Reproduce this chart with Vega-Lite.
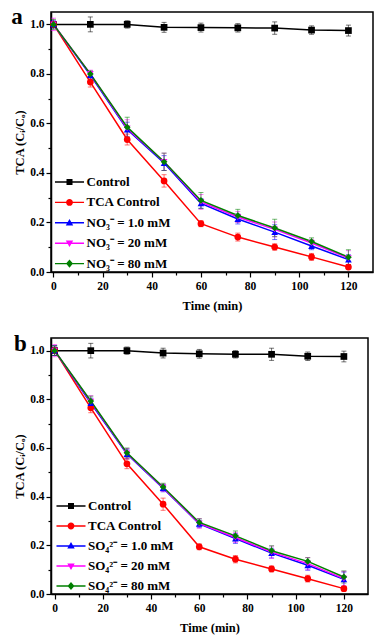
{
  "$schema": "https://vega.github.io/schema/vega-lite/v6.json",
  "padding": {"left": 10, "top": 5, "right": 5, "bottom": 5},
  "spacing": 18,
  "config": {
    "view": {"stroke": "#000", "strokeWidth": 1.5},
    "axis": {"domainColor": "#000", "domainWidth": 1.5, "tickColor": "#000", "tickWidth": 1.2, "labelFont": "Liberation Serif", "labelFontWeight": "bold", "labelFontSize": 11.5, "labelColor": "#000", "titleFont": "Liberation Serif", "titleFontWeight": "bold", "titleFontSize": 12.5, "titleColor": "#000", "grid": false}
  },
  "datasets": {
    "d": [
      {"p":"a","s":"Control","t":0,"v":1.0,"e":0.012},{"p":"a","s":"Control","t":15,"v":1.0,"e":0.03},{"p":"a","s":"Control","t":30,"v":1.0,"e":0.015},{"p":"a","s":"Control","t":45,"v":0.988,"e":0.02},{"p":"a","s":"Control","t":60,"v":0.987,"e":0.018},{"p":"a","s":"Control","t":75,"v":0.986,"e":0.017},{"p":"a","s":"Control","t":90,"v":0.985,"e":0.025},{"p":"a","s":"Control","t":105,"v":0.977,"e":0.017},{"p":"a","s":"Control","t":120,"v":0.975,"e":0.022},
      {"p":"a","s":"TCA Control","t":0,"v":1.0,"e":0.01},{"p":"a","s":"TCA Control","t":15,"v":0.767,"e":0.02},{"p":"a","s":"TCA Control","t":30,"v":0.535,"e":0.022},{"p":"a","s":"TCA Control","t":45,"v":0.368,"e":0.025},{"p":"a","s":"TCA Control","t":60,"v":0.195,"e":0.012},{"p":"a","s":"TCA Control","t":75,"v":0.141,"e":0.016},{"p":"a","s":"TCA Control","t":90,"v":0.101,"e":0.013},{"p":"a","s":"TCA Control","t":105,"v":0.061,"e":0.014},{"p":"a","s":"TCA Control","t":120,"v":0.02,"e":0.01},
      {"p":"a","s":"NO₃⁻ = 1.0 mM","t":0,"v":1.0,"e":0.015},{"p":"a","s":"NO₃⁻ = 1.0 mM","t":15,"v":0.795,"e":0.015},{"p":"a","s":"NO₃⁻ = 1.0 mM","t":30,"v":0.575,"e":0.03},{"p":"a","s":"NO₃⁻ = 1.0 mM","t":45,"v":0.44,"e":0.03},{"p":"a","s":"NO₃⁻ = 1.0 mM","t":60,"v":0.277,"e":0.02},{"p":"a","s":"NO₃⁻ = 1.0 mM","t":75,"v":0.214,"e":0.02},{"p":"a","s":"NO₃⁻ = 1.0 mM","t":90,"v":0.161,"e":0.03},{"p":"a","s":"NO₃⁻ = 1.0 mM","t":105,"v":0.105,"e":0.015},{"p":"a","s":"NO₃⁻ = 1.0 mM","t":120,"v":0.05,"e":0.02},
      {"p":"a","s":"NO₃⁻ = 20 mM","t":0,"v":1.0,"e":0.025},{"p":"a","s":"NO₃⁻ = 20 mM","t":15,"v":0.8,"e":0.015},{"p":"a","s":"NO₃⁻ = 20 mM","t":30,"v":0.58,"e":0.035},{"p":"a","s":"NO₃⁻ = 20 mM","t":45,"v":0.445,"e":0.035},{"p":"a","s":"NO₃⁻ = 20 mM","t":60,"v":0.283,"e":0.03},{"p":"a","s":"NO₃⁻ = 20 mM","t":75,"v":0.222,"e":0.022},{"p":"a","s":"NO₃⁻ = 20 mM","t":90,"v":0.172,"e":0.03},{"p":"a","s":"NO₃⁻ = 20 mM","t":105,"v":0.117,"e":0.015},{"p":"a","s":"NO₃⁻ = 20 mM","t":120,"v":0.056,"e":0.03},
      {"p":"a","s":"NO₃⁻ = 80 mM","t":0,"v":1.0,"e":0.02},{"p":"a","s":"NO₃⁻ = 80 mM","t":15,"v":0.8,"e":0.012},{"p":"a","s":"NO₃⁻ = 80 mM","t":30,"v":0.585,"e":0.04},{"p":"a","s":"NO₃⁻ = 80 mM","t":45,"v":0.445,"e":0.035},{"p":"a","s":"NO₃⁻ = 80 mM","t":60,"v":0.289,"e":0.032},{"p":"a","s":"NO₃⁻ = 80 mM","t":75,"v":0.228,"e":0.025},{"p":"a","s":"NO₃⁻ = 80 mM","t":90,"v":0.178,"e":0.035},{"p":"a","s":"NO₃⁻ = 80 mM","t":105,"v":0.123,"e":0.015},{"p":"a","s":"NO₃⁻ = 80 mM","t":120,"v":0.06,"e":0.03},
      {"p":"b","s":"Control","t":0,"v":1.0,"e":0.02},{"p":"b","s":"Control","t":15,"v":1.0,"e":0.03},{"p":"b","s":"Control","t":30,"v":1.0,"e":0.015},{"p":"b","s":"Control","t":45,"v":0.99,"e":0.02},{"p":"b","s":"Control","t":60,"v":0.987,"e":0.018},{"p":"b","s":"Control","t":75,"v":0.985,"e":0.015},{"p":"b","s":"Control","t":90,"v":0.985,"e":0.025},{"p":"b","s":"Control","t":105,"v":0.977,"e":0.017},{"p":"b","s":"Control","t":120,"v":0.976,"e":0.022},
      {"p":"b","s":"TCA Control","t":0,"v":1.0,"e":0.01},{"p":"b","s":"TCA Control","t":15,"v":0.765,"e":0.02},{"p":"b","s":"TCA Control","t":30,"v":0.535,"e":0.02},{"p":"b","s":"TCA Control","t":45,"v":0.369,"e":0.025},{"p":"b","s":"TCA Control","t":60,"v":0.194,"e":0.012},{"p":"b","s":"TCA Control","t":75,"v":0.143,"e":0.015},{"p":"b","s":"TCA Control","t":90,"v":0.103,"e":0.012},{"p":"b","s":"TCA Control","t":105,"v":0.063,"e":0.014},{"p":"b","s":"TCA Control","t":120,"v":0.022,"e":0.01},
      {"p":"b","s":"SO₄²⁻ = 1.0 mM","t":0,"v":1.0,"e":0.02},{"p":"b","s":"SO₄²⁻ = 1.0 mM","t":15,"v":0.785,"e":0.02},{"p":"b","s":"SO₄²⁻ = 1.0 mM","t":30,"v":0.575,"e":0.02},{"p":"b","s":"SO₄²⁻ = 1.0 mM","t":45,"v":0.435,"e":0.015},{"p":"b","s":"SO₄²⁻ = 1.0 mM","t":60,"v":0.288,"e":0.015},{"p":"b","s":"SO₄²⁻ = 1.0 mM","t":75,"v":0.228,"e":0.02},{"p":"b","s":"SO₄²⁻ = 1.0 mM","t":90,"v":0.168,"e":0.02},{"p":"b","s":"SO₄²⁻ = 1.0 mM","t":105,"v":0.118,"e":0.02},{"p":"b","s":"SO₄²⁻ = 1.0 mM","t":120,"v":0.06,"e":0.03},
      {"p":"b","s":"SO₄²⁻ = 20 mM","t":0,"v":1.0,"e":0.025},{"p":"b","s":"SO₄²⁻ = 20 mM","t":15,"v":0.79,"e":0.025},{"p":"b","s":"SO₄²⁻ = 20 mM","t":30,"v":0.578,"e":0.02},{"p":"b","s":"SO₄²⁻ = 20 mM","t":45,"v":0.437,"e":0.015},{"p":"b","s":"SO₄²⁻ = 20 mM","t":60,"v":0.29,"e":0.02},{"p":"b","s":"SO₄²⁻ = 20 mM","t":75,"v":0.232,"e":0.02},{"p":"b","s":"SO₄²⁻ = 20 mM","t":90,"v":0.172,"e":0.025},{"p":"b","s":"SO₄²⁻ = 20 mM","t":105,"v":0.125,"e":0.025},{"p":"b","s":"SO₄²⁻ = 20 mM","t":120,"v":0.063,"e":0.03},
      {"p":"b","s":"SO₄²⁻ = 80 mM","t":0,"v":1.0,"e":0.02},{"p":"b","s":"SO₄²⁻ = 80 mM","t":15,"v":0.793,"e":0.02},{"p":"b","s":"SO₄²⁻ = 80 mM","t":30,"v":0.58,"e":0.02},{"p":"b","s":"SO₄²⁻ = 80 mM","t":45,"v":0.44,"e":0.015},{"p":"b","s":"SO₄²⁻ = 80 mM","t":60,"v":0.294,"e":0.015},{"p":"b","s":"SO₄²⁻ = 80 mM","t":75,"v":0.239,"e":0.02},{"p":"b","s":"SO₄²⁻ = 80 mM","t":90,"v":0.178,"e":0.02},{"p":"b","s":"SO₄²⁻ = 80 mM","t":105,"v":0.134,"e":0.015},{"p":"b","s":"SO₄²⁻ = 80 mM","t":120,"v":0.07,"e":0.025}
    ]
  },
  "vconcat": [
    {
      "width": 322, "height": 260,
      "data": {"name": "d"},
      "transform": [{"filter": "datum.p === 'a'"}],
      "encoding": {
        "x": {"field": "t", "type": "quantitative", "scale": {"domain": [-1, 130], "nice": false, "zero": false},
          "axis": {"title": "Time (min)", "values": [0,10,20,30,40,50,60,70,80,90,100,110,120], "labelExpr": "datum.value % 20 === 0 ? datum.label : ''", "tickSize": {"condition": {"test": "datum.value % 20 === 0", "value": 5}, "value": 3}, "labelPadding": 3, "titlePadding": 8}},
        "y": {"field": "v", "type": "quantitative", "scale": {"domain": [0, 1.05], "nice": false, "zero": false},
          "axis": {"title": "TCA (Cᵢ/Cₒ)", "values": [0,0.1,0.2,0.3,0.4,0.5,0.6,0.7,0.8,0.9,1], "labelExpr": "round(datum.value*10) % 2 === 0 ? format(datum.value, '.1f') : ''", "tickSize": {"condition": {"test": "round(datum.value*10) % 2 === 0", "value": 5}, "value": 3}, "labelPadding": 2, "titlePadding": 3}}
      },
      "layer": [
        {"mark": {"type": "errorbar", "rule": {"opacity": 0.55, "strokeWidth": 1}, "ticks": {"opacity": 0.55, "size": 5, "strokeWidth": 1}},
          "encoding": {"yError": {"field": "e"}, "color": {"field": "s", "type": "nominal", "legend": null, "scale": {"domain": ["Control","TCA Control","NO₃⁻ = 1.0 mM","NO₃⁻ = 20 mM","NO₃⁻ = 80 mM"], "range": ["#000000","#ff0000","#0000ff","#ff00ff","#008000"]}}}},
        {"mark": {"type": "line", "strokeWidth": 1.5},
          "encoding": {"color": {"field": "s", "type": "nominal", "legend": null, "scale": {"domain": ["Control","TCA Control","NO₃⁻ = 1.0 mM","NO₃⁻ = 20 mM","NO₃⁻ = 80 mM"], "range": ["#000000","#ff0000","#0000ff","#ff00ff","#008000"]}}}},
        {"mark": {"type": "point", "filled": true, "size": 45, "opacity": 1},
          "encoding": {"color": {"field": "s", "type": "nominal", "legend": null, "scale": {"domain": ["Control","TCA Control","NO₃⁻ = 1.0 mM","NO₃⁻ = 20 mM","NO₃⁻ = 80 mM"], "range": ["#000000","#ff0000","#0000ff","#ff00ff","#008000"]}},
            "shape": {"field": "s", "type": "nominal", "legend": null, "scale": {"domain": ["Control","TCA Control","NO₃⁻ = 1.0 mM","NO₃⁻ = 20 mM","NO₃⁻ = 80 mM"], "range": ["square","circle","triangle-up","triangle-down","diamond"]}}}},
        {"mark": {"type": "point", "filled": true, "opacity": 0},
          "encoding": {
            "color": {"field": "s", "type": "nominal", "scale": {"domain": ["Control","TCA Control","NO₃⁻ = 1.0 mM","NO₃⁻ = 20 mM","NO₃⁻ = 80 mM"], "range": ["#000000","#ff0000","#0000ff","#ff00ff","#008000"]},
              "legend": {"orient": "none", "legendX": 12, "legendY": 163.5, "title": null, "symbolSize": 144, "symbolStrokeWidth": 0, "symbolOpacity": 1, "labelFont": "Liberation Serif", "labelFontWeight": "bold", "labelFontSize": 13, "labelColor": "#000", "labelOffset": 10.5, "rowPadding": 6.4, "padding": 0}},
            "shape": {"field": "s", "type": "nominal", "scale": {"domain": ["Control","TCA Control","NO₃⁻ = 1.0 mM","NO₃⁻ = 20 mM","NO₃⁻ = 80 mM"], "range": ["M-2.42,-0.12H2.42V0.12H-2.42Z M-0.5,-0.5H0.5V0.5H-0.5Z","M-2.42,-0.12H2.42V0.12H-2.42Z M-0.57,0A0.57,0.57,0,1,1,0.57,0A0.57,0.57,0,1,1,-0.57,0Z","M-2.42,-0.12H2.42V0.12H-2.42Z M0,-0.65L0.62,0.43H-0.62Z","M-2.42,-0.12H2.42V0.12H-2.42Z M-0.62,-0.43H0.62L0,0.65Z","M-2.42,-0.12H2.42V0.12H-2.42Z M0,-0.68L0.58,0L0,0.68L-0.58,0Z"]},
              "legend": {"orient": "none", "legendX": 12, "legendY": 163.5, "title": null, "symbolSize": 144, "symbolStrokeWidth": 0, "symbolOpacity": 1, "labelFont": "Liberation Serif", "labelFontWeight": "bold", "labelFontSize": 13, "labelColor": "#000", "labelOffset": 10.5, "rowPadding": 6.4, "padding": 0}}
          }},
        {"transform": [{"filter": "datum.t === 0 && datum.s === 'Control'"}],
          "mark": {"type": "text", "font": "Liberation Serif", "fontWeight": "bold", "fontSize": 23, "align": "center", "baseline": "alphabetic", "color": "#000"},
          "encoding": {"x": {"datum": -14.8}, "y": {"datum": 1.0}, "text": {"value": "a"}}}
      ],
      "resolve": {"scale": {"color": "independent", "shape": "independent"}}
    },
    {
      "width": 317, "height": 256,
      "data": {"name": "d"},
      "transform": [{"filter": "datum.p === 'b'"}],
      "encoding": {
        "x": {"field": "t", "type": "quantitative", "scale": {"domain": [-1.5, 130], "nice": false, "zero": false},
          "axis": {"title": "Time (min)", "values": [0,10,20,30,40,50,60,70,80,90,100,110,120], "labelExpr": "datum.value % 20 === 0 ? datum.label : ''", "tickSize": {"condition": {"test": "datum.value % 20 === 0", "value": 5}, "value": 3}, "labelPadding": 3, "titlePadding": 8}},
        "y": {"field": "v", "type": "quantitative", "scale": {"domain": [0, 1.052], "nice": false, "zero": false},
          "axis": {"title": "TCA (Cᵢ/Cₒ)", "values": [0,0.1,0.2,0.3,0.4,0.5,0.6,0.7,0.8,0.9,1], "labelExpr": "round(datum.value*10) % 2 === 0 ? format(datum.value, '.1f') : ''", "tickSize": {"condition": {"test": "round(datum.value*10) % 2 === 0", "value": 5}, "value": 3}, "labelPadding": 2, "titlePadding": 3}}
      },
      "layer": [
        {"mark": {"type": "errorbar", "rule": {"opacity": 0.55, "strokeWidth": 1}, "ticks": {"opacity": 0.55, "size": 5, "strokeWidth": 1}},
          "encoding": {"yError": {"field": "e"}, "color": {"field": "s", "type": "nominal", "legend": null, "scale": {"domain": ["Control","TCA Control","SO₄²⁻ = 1.0 mM","SO₄²⁻ = 20 mM","SO₄²⁻ = 80 mM"], "range": ["#000000","#ff0000","#0000ff","#ff00ff","#008000"]}}}},
        {"mark": {"type": "line", "strokeWidth": 1.5},
          "encoding": {"color": {"field": "s", "type": "nominal", "legend": null, "scale": {"domain": ["Control","TCA Control","SO₄²⁻ = 1.0 mM","SO₄²⁻ = 20 mM","SO₄²⁻ = 80 mM"], "range": ["#000000","#ff0000","#0000ff","#ff00ff","#008000"]}}}},
        {"mark": {"type": "point", "filled": true, "size": 45, "opacity": 1},
          "encoding": {"color": {"field": "s", "type": "nominal", "legend": null, "scale": {"domain": ["Control","TCA Control","SO₄²⁻ = 1.0 mM","SO₄²⁻ = 20 mM","SO₄²⁻ = 80 mM"], "range": ["#000000","#ff0000","#0000ff","#ff00ff","#008000"]}},
            "shape": {"field": "s", "type": "nominal", "legend": null, "scale": {"domain": ["Control","TCA Control","SO₄²⁻ = 1.0 mM","SO₄²⁻ = 20 mM","SO₄²⁻ = 80 mM"], "range": ["square","circle","triangle-up","triangle-down","diamond"]}}}},
        {"mark": {"type": "point", "filled": true, "opacity": 0},
          "encoding": {
            "color": {"field": "s", "type": "nominal", "scale": {"domain": ["Control","TCA Control","SO₄²⁻ = 1.0 mM","SO₄²⁻ = 20 mM","SO₄²⁻ = 80 mM"], "range": ["#000000","#ff0000","#0000ff","#ff00ff","#008000"]},
              "legend": {"orient": "none", "legendX": 13.5, "legendY": 161.5, "title": null, "symbolSize": 144, "symbolStrokeWidth": 0, "symbolOpacity": 1, "labelFont": "Liberation Serif", "labelFontWeight": "bold", "labelFontSize": 13, "labelColor": "#000", "labelOffset": 10.5, "rowPadding": 6, "padding": 0}},
            "shape": {"field": "s", "type": "nominal", "scale": {"domain": ["Control","TCA Control","SO₄²⁻ = 1.0 mM","SO₄²⁻ = 20 mM","SO₄²⁻ = 80 mM"], "range": ["M-2.42,-0.12H2.42V0.12H-2.42Z M-0.5,-0.5H0.5V0.5H-0.5Z","M-2.42,-0.12H2.42V0.12H-2.42Z M-0.57,0A0.57,0.57,0,1,1,0.57,0A0.57,0.57,0,1,1,-0.57,0Z","M-2.42,-0.12H2.42V0.12H-2.42Z M0,-0.65L0.62,0.43H-0.62Z","M-2.42,-0.12H2.42V0.12H-2.42Z M-0.62,-0.43H0.62L0,0.65Z","M-2.42,-0.12H2.42V0.12H-2.42Z M0,-0.68L0.58,0L0,0.68L-0.58,0Z"]},
              "legend": {"orient": "none", "legendX": 13.5, "legendY": 161.5, "title": null, "symbolSize": 144, "symbolStrokeWidth": 0, "symbolOpacity": 1, "labelFont": "Liberation Serif", "labelFontWeight": "bold", "labelFontSize": 13, "labelColor": "#000", "labelOffset": 10.5, "rowPadding": 6, "padding": 0}}
          }},
        {"transform": [{"filter": "datum.t === 0 && datum.s === 'Control'"}],
          "mark": {"type": "text", "font": "Liberation Serif", "fontWeight": "bold", "fontSize": 23, "align": "center", "baseline": "alphabetic", "color": "#000"},
          "encoding": {"x": {"datum": -14.2}, "y": {"datum": 1.0}, "text": {"value": "b"}}}
      ],
      "resolve": {"scale": {"color": "independent", "shape": "independent"}}
    }
  ]
}
